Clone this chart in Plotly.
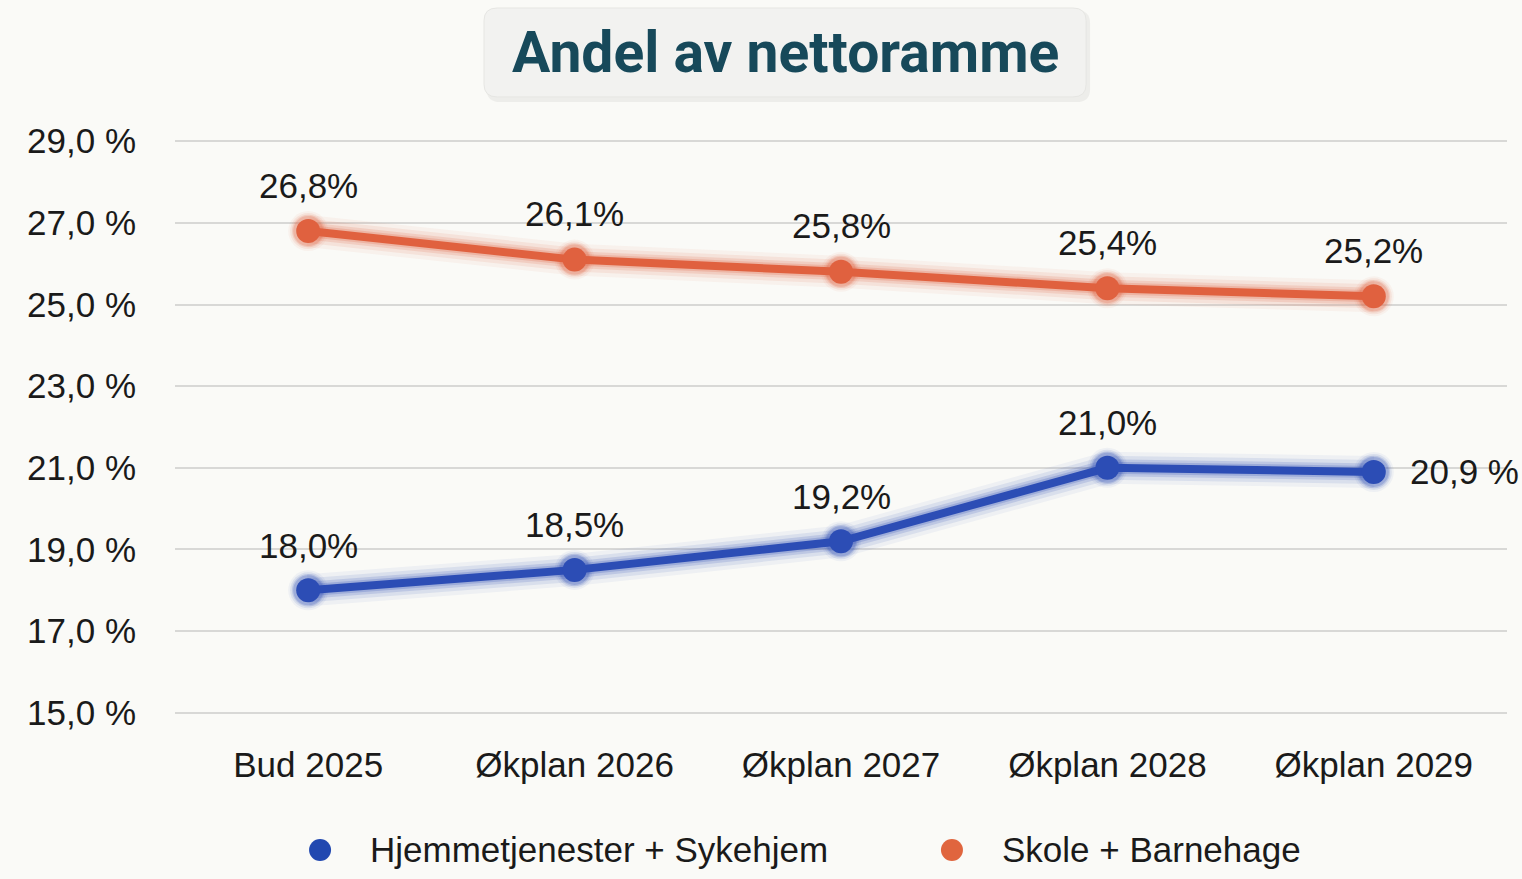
import plotly.graph_objects as go

categories = ["Bud 2025", "Økplan 2026", "Økplan 2027", "Økplan 2028", "Økplan 2029"]
hjemme = [18.0, 18.5, 19.2, 21.0, 20.9]
skole = [26.8, 26.1, 25.8, 25.4, 25.2]
hjemme_labels = ["18,0%", "18,5%", "19,2%", "21,0%", "20,9 %"]
skole_labels = ["26,8%", "26,1%", "25,8%", "25,4%", "25,2%"]
series_names = ["Hjemmetjenester + Sykehjem", "Skole + Barnehage"]
y_ticks = [15, 17, 19, 21, 23, 25, 27, 29]
y_ticktext = [f"{v:.1f} %".replace(".", ",") for v in y_ticks]

BLUE = "#2c4db5"
ORANGE = "#e0613f"
BG = "#fafaf7"
FONT = "Liberation Sans, Arial, sans-serif"
SIZE = 35


def rounded_rect(x0, y0, x1, y1, rx, ry):
    return (
        f"M{x0 + rx},{y0} L{x1 - rx},{y0} Q{x1},{y0} {x1},{y0 + ry} "
        f"L{x1},{y1 - ry} Q{x1},{y1} {x1 - rx},{y1} "
        f"L{x0 + rx},{y1} Q{x0},{y1} {x0},{y1 - ry} "
        f"L{x0},{y0 + ry} Q{x0},{y0} {x0 + rx},{y0} Z"
    )


fig = go.Figure()

# soft glow under the lines
for vals, color, rgb in [(hjemme, BLUE, "44,77,181"), (skole, ORANGE, "224,97,63")]:
    for w, a in [(32, 0.06), (24, 0.10), (17, 0.16), (12, 0.22)]:
        fig.add_trace(go.Scatter(
            x=categories, y=vals, mode="lines+markers",
            line=dict(color=f"rgba({rgb},{a})", width=w),
            marker=dict(size=24 + w * 0.5, color=f"rgba({rgb},{a})"),
            showlegend=False, hoverinfo="skip",
        ))
    fig.add_trace(go.Scatter(
        x=categories, y=vals, mode="lines+markers",
        line=dict(color=color, width=8),
        marker=dict(size=24, color=color),
        showlegend=False,
    ))

# value labels
for c, v, t in zip(categories, skole, skole_labels):
    fig.add_annotation(x=c, y=v, text=t, showarrow=False, yshift=46,
                       font=dict(size=SIZE, color="#1a1a1a", family=FONT))
for i, (c, v, t) in enumerate(zip(categories, hjemme, hjemme_labels)):
    if i == len(categories) - 1:
        fig.add_annotation(x=c, y=v, text=t, showarrow=False, xanchor="left", xshift=34,
                           font=dict(size=SIZE, color="#1a1a1a", family=FONT))
    else:
        fig.add_annotation(x=c, y=v, text=t, showarrow=False, yshift=45,
                           font=dict(size=SIZE, color="#1a1a1a", family=FONT))

# legend drawn by hand (dot + text)
for name, color, xdot in zip(series_names, ["#2148b0", "#e0653e"], [0.1089, 0.5833]):
    fig.add_shape(type="circle", xref="paper", yref="paper", xsizemode="pixel", ysizemode="pixel",
                  xanchor=xdot, yanchor=-0.2369, x0=-11, x1=11, y0=-11, y1=11,
                  fillcolor=color, line=dict(width=0))
    fig.add_annotation(xref="paper", yref="paper", x=xdot + 0.036, y=-0.2369, xanchor="left",
                       yanchor="middle", text=name, showarrow=False,
                       font=dict(size=SIZE, color="#1a1a1a", family=FONT))

# title box
fig.add_shape(type="path", xref="paper", yref="paper", layer="above",
              path=rounded_rect(0.234, 1.066, 0.687, 1.226, 0.010, 0.022),
              fillcolor="rgba(0,0,0,0.05)", line=dict(width=0))
fig.add_shape(type="path", xref="paper", yref="paper", layer="above",
              path=rounded_rect(0.232, 1.075, 0.684, 1.230, 0.010, 0.022),
              fillcolor="#f2f2f0", line=dict(color="#e6e6e3", width=1))
fig.add_annotation(xref="paper", yref="paper", x=0.458, y=1.153, xanchor="center", yanchor="middle",
                   text="<b>Andel av nettoramme</b>", showarrow=False,
                   font=dict(size=57, color="#17495a", family="Roboto, Arial, sans-serif"))

fig.update_layout(
    width=1522, height=879,
    paper_bgcolor=BG, plot_bgcolor=BG,
    margin=dict(l=175, r=15, t=140, b=165),
    font=dict(family=FONT, size=SIZE, color="#1a1a1a"),
    showlegend=False,
    xaxis=dict(range=[-0.5, 4.5], showgrid=False, zeroline=False, showline=False,
               ticks="", tickfont=dict(size=SIZE), ticklabelstandoff=27),
    yaxis=dict(range=[14.97, 29.03], tickvals=y_ticks, ticktext=y_ticktext,
               showgrid=True, gridcolor="#d8d8d6", gridwidth=2, zeroline=False,
               showline=False, ticks="", tickfont=dict(size=SIZE), ticklabelstandoff=38),
)
fig.update_traces(cliponaxis=False)

fig.write_html("out.html", config={"displayModeBar": False},
               post_script="document.body.style.margin='0';")
